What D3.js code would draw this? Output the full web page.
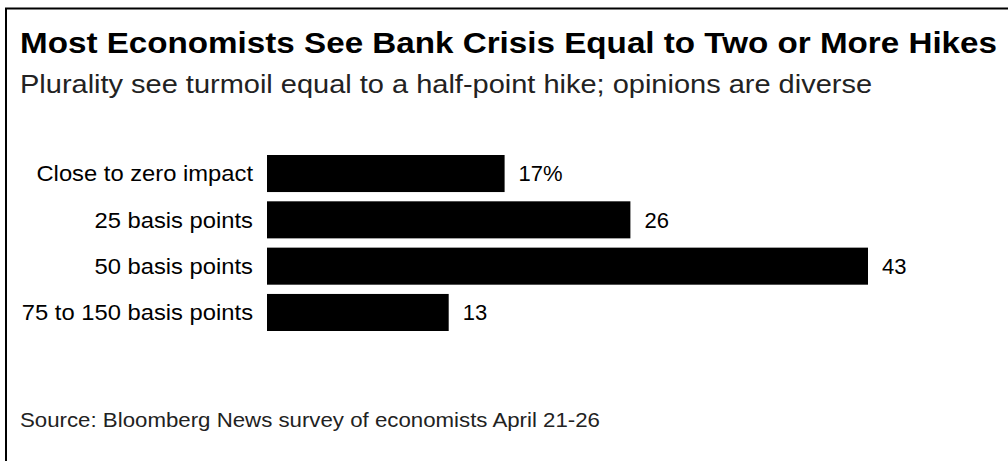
<!DOCTYPE html>
<html>
<head>
<meta charset="utf-8">
<script src="https://cdn.jsdelivr.net/npm/d3@7"></script>
<style>
  body { margin: 0; background: #fff; }
  svg text { font-family: "Liberation Sans", Arial, sans-serif; }
</style>
</head>
<body>
<div id="chart"></div>
<script>
// chart data
var categories = ["Close to zero impact", "25 basis points", "50 basis points", "75 to 150 basis points"];
var values = [17, 26, 43, 13];
var valueLabels = ["17%", "26", "43", "13"];

var W = 1008, H = 461;
var margin = {top: 155, left: 267};

var svg = d3.select("#chart")
  .append("svg")
    .attr("width", W)
    .attr("height", H);

// the reference type is a bit wider than Liberation Sans, so stretch it
var stretch = function(sel, k) {
  sel.each(function() {
    var w = this.getComputedTextLength();
    d3.select(this).attr("textLength", w * k).attr("lengthAdjust", "spacingAndGlyphs");
  });
};

// frame (top + left edges only)
svg.append("line")
  .attr("x1", 5).attr("x2", W).attr("y1", 8.5).attr("y2", 8.5)
  .attr("stroke", "#000").attr("stroke-width", 2);
svg.append("line")
  .attr("x1", 6).attr("x2", 6).attr("y1", 8).attr("y2", H)
  .attr("stroke", "#000").attr("stroke-width", 2);

// titles
svg.append("text")
  .attr("x", 20).attr("y", 53)
  .style("font-size", "29px")
  .style("font-weight", "bold")
  .attr("fill", "#000")
  .attr("textLength", 977)
  .attr("lengthAdjust", "spacingAndGlyphs")
  .text("Most Economists See Bank Crisis Equal to Two or More Hikes");

svg.append("text")
  .attr("x", 20).attr("y", 93)
  .style("font-size", "25px")
  .attr("fill", "#222")
  .attr("textLength", 852)
  .attr("lengthAdjust", "spacingAndGlyphs")
  .text("Plurality see turmoil equal to a half-point hike; opinions are diverse");

// scales
var x = d3.scaleLinear()
  .domain([0, 43])
  .range([0, 601]);

var y = d3.scaleBand()
  .domain(categories)
  .range([0, 176])
  .paddingInner(0.2)
  .paddingOuter(0);

var g = svg.append("g")
  .attr("transform", "translate(" + margin.left + "," + margin.top + ")");

// bars
g.selectAll("rect")
  .data(values)
  .enter()
  .append("rect")
    .attr("x", 0)
    .attr("y", function(d, i) { return y(categories[i]); })
    .attr("width", function(d) { return x(d); })
    .attr("height", y.bandwidth())
    .attr("fill", "#000");

// category labels
g.selectAll(".cat")
  .data(categories)
  .enter()
  .append("text")
    .attr("class", "cat")
    .attr("x", -14)
    .attr("y", function(d) { return y(d) + y.bandwidth() / 2; })
    .attr("dy", "0.35em")
    .attr("text-anchor", "end")
    .style("font-size", "22px")
    .attr("fill", "#000")
    .text(function(d) { return d; })
    .call(stretch, 1.08);

// value labels
g.selectAll(".val")
  .data(values)
  .enter()
  .append("text")
    .attr("class", "val")
    .attr("x", function(d) { return x(d) + 14; })
    .attr("y", function(d, i) { return y(categories[i]) + y.bandwidth() / 2; })
    .attr("dy", "0.35em")
    .style("font-size", "22px")
    .attr("fill", "#000")
    .text(function(d, i) { return valueLabels[i]; });

// source note
svg.append("text")
  .attr("x", 20).attr("y", 427)
  .style("font-size", "21px")
  .attr("fill", "#222")
  .attr("textLength", 580)
  .attr("lengthAdjust", "spacingAndGlyphs")
  .text("Source: Bloomberg News survey of economists April 21-26");
</script>
</body>
</html>
